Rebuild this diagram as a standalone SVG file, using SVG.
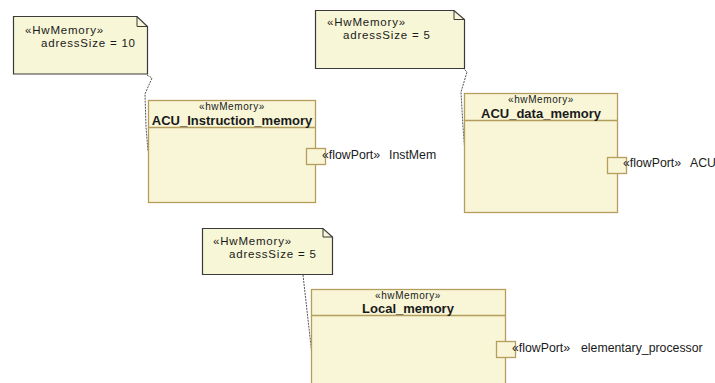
<svg xmlns="http://www.w3.org/2000/svg" width="715" height="383" viewBox="0 0 715 383">
<style>
.note{fill:#f7f6d6;stroke:#3a3a3a;stroke-width:1.2}
.fold{fill:none;stroke:#3a3a3a;stroke-width:1}
.box{fill:#f8f6d6;stroke:#b59d5e;stroke-width:1.3}
.sep{stroke:#b59d5e;stroke-width:1.3}
.port{fill:#f8f6d6;stroke:#b59d5e;stroke-width:1.3}
.t{font-family:"Liberation Sans",Arial,sans-serif;fill:#1a1a1a}
.ns{font-size:11.5px;letter-spacing:0.8px}
.st{font-size:10px;letter-spacing:0.6px}
.ti{font-size:13px;font-weight:bold}
.pl{font-size:12.3px}
.conn{fill:none;stroke:#555;stroke-width:1;stroke-dasharray:2,1}
</style>
<g id="connectors">
<polyline class="conn" points="147,75 152,78 145,94 146,127 148,151"/>
<polyline class="conn" points="463,68 467,72 461,92 463,127 465,153"/>
<polyline class="conn" points="303,275 312,355"/>
</g>
<g id="note1">
<path class="note" d="M13.5,16.5 H137 L147.5,26.5 V74 H13.5 Z"/>
<path class="fold" d="M137,16.5 V26.5 H147.5"/>
<text class="t ns" x="25" y="34">«HwMemory»</text>
<text class="t ns" x="41" y="47">adressSize = 10</text>
</g>
<g id="note2">
<path class="note" d="M315.5,10.5 H454 L464.5,19.5 V68.5 H315.5 Z"/>
<path class="fold" d="M454,10.5 V19.5 H464.5"/>
<text class="t ns" x="327" y="26">«HwMemory»</text>
<text class="t ns" x="343" y="39">adressSize = 5</text>
</g>
<g id="note3">
<path class="note" d="M202.5,228.5 H323 L332.5,237 V274.5 H202.5 Z"/>
<path class="fold" d="M323,228.5 V237 H332.5"/>
<text class="t ns" x="213" y="245">«HwMemory»</text>
<text class="t ns" x="229" y="258">adressSize = 5</text>
</g>
<g id="ACU_Instruction_memory">
<rect class="box" x="148.5" y="100.5" width="167" height="102"/>
<line class="sep" x1="148.5" y1="127.5" x2="315.5" y2="127.5"/>
<text class="t st" x="232" y="110" text-anchor="middle">«hwMemory»</text>
<text class="t ti" x="232" y="125" text-anchor="middle">ACU_Instruction_memory</text>
<rect class="port" x="306.5" y="148.5" width="19" height="16"/>
<text class="t pl" x="322" y="159">«flowPort»</text>
<text class="t pl" x="389" y="159">InstMem</text>
</g>
<g id="ACU_data_memory">
<rect class="box" x="464.5" y="93.5" width="153" height="119"/>
<line class="sep" x1="464.5" y1="120.5" x2="617.5" y2="120.5"/>
<text class="t st" x="541" y="103" text-anchor="middle">«hwMemory»</text>
<text class="t ti" x="541" y="118" text-anchor="middle">ACU_data_memory</text>
<rect class="port" x="607.5" y="157.5" width="19" height="16"/>
<text class="t pl" x="623" y="167">«flowPort»</text>
<text class="t pl" x="690" y="167">ACU</text>
</g>
<g id="Local_memory">
<rect class="box" x="311.5" y="289.5" width="194" height="100"/>
<line class="sep" x1="311.5" y1="315.5" x2="505.5" y2="315.5"/>
<text class="t st" x="408" y="299" text-anchor="middle">«hwMemory»</text>
<text class="t ti" x="408" y="313" text-anchor="middle">Local_memory</text>
<rect class="port" x="496.5" y="341.5" width="19" height="16"/>
<text class="t pl" x="512" y="352">«flowPort»</text>
<text class="t pl" x="581" y="352">elementary_processor</text>
</g>
</svg>
